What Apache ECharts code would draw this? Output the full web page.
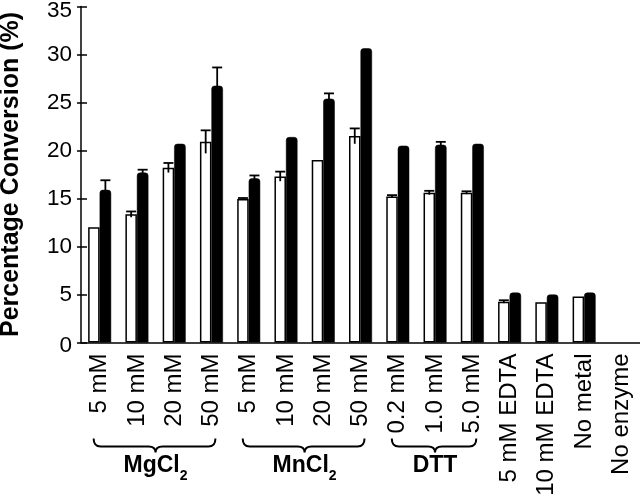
<!DOCTYPE html>
<html><head><meta charset="utf-8">
<script src="https://cdn.jsdelivr.net/npm/echarts@6/dist/echarts.min.js"></script>
<style>html,body{margin:0;padding:0;background:#fff}#c{width:640px;height:500px}</style>
</head><body><div id="c"></div>
<script>
// ---- data ----
const categories = ['5 mM','10 mM','20 mM','50 mM','5 mM','10 mM','20 mM','50 mM','0.2 mM','1.0 mM','5.0 mM','5 mM EDTA','10 mM EDTA','No metal','No enzyme'];
const openValues   = [12.0, 13.35, 18.2, 20.9, 14.95, 17.3, 19.0, 21.5, 15.2, 15.6, 15.6, 4.25, 4.2, 4.8, null];
const openErrors   = [0, 0.3, 0.5, 1.2, 0.1, 0.5, 0, 0.8, 0.15, 0.2, 0.15, 0.15, 0, 0, 0];
const filledValues = [15.9, 17.7, 20.7, 26.75, 17.1, 21.4, 25.4, 30.65, 20.5, 20.6, 20.7, 5.2, 5.0, 5.2, null];
const filledErrors = [1.0, 0.3, 0, 1.9, 0.3, 0, 0.55, 0, 0, 0.3, 0, 0, 0, 0, 0];
const groupNames = ['MgCl', 'MnCl', 'DTT'];
const groupSubs  = ['2', '2', ''];
const groupStart = [0, 4, 8];
const groupEnd   = [3, 7, 10];
const yMin = 0, yMax = 35, yStep = 5;
const yTitle = 'Percentage Conversion (%)';

// ---- rendering ----
const BAR_W = 11.5;
const FAMILY = 'Liberation Sans';
const chart = echarts.init(document.getElementById('c'), null, {renderer: 'canvas'});

const errData = [];
openValues.forEach((v, i) => { if (v != null && openErrors[i] > 0) errData.push([i, v, openErrors[i], -1]); });
filledValues.forEach((v, i) => { if (v != null && filledErrors[i] > 0) errData.push([i, v, filledErrors[i], 1]); });

const braceData = groupNames.map((n, g) => [groupStart[g], 0, groupEnd[g], g]);

const measureCtx = document.createElement('canvas').getContext('2d');
function textW(str, size) { measureCtx.font = 'bold ' + size + 'px "' + FAMILY + '"'; return measureCtx.measureText(str).width; }

const yLabelFont = {fontSize: 22.5, fontFamily: FAMILY, color: '#000'};

chart.setOption({
  animation: false,
  backgroundColor: '#fff',
  grid: {left: 81, right: 0, top: 6.5, bottom: 157.5, containLabel: false, outerBoundsMode: 'none'},
  xAxis: {
    type: 'category', data: categories, boundaryGap: true,
    axisLine: {lineStyle: {color: '#000', width: 1.5}},
    axisTick: {inside: true, length: 6, interval: 0, lineStyle: {color: '#000', width: 1.5}},
    axisLabel: {interval: 0, rotate: 90, margin: 11, fontSize: 24, color: '#000', fontFamily: FAMILY, hideOverlap: false},
    splitLine: {show: false}
  },
  yAxis: [{
    type: 'value', min: yMin, max: yMax, interval: yStep,
    name: yTitle, nameLocation: 'middle', nameGap: 57,
    nameTextStyle: {fontSize: 25, fontWeight: 'bold', color: '#000', fontFamily: FAMILY},
    axisLine: {show: true, lineStyle: {color: '#000', width: 1.5}},
    axisTick: {show: true, inside: false, length: 4, lineStyle: {color: '#000', width: 1.5}},
    axisLabel: Object.assign({
      margin: 9,
      formatter: v => v === yMax ? '{hi|' + v + '}' : (v === yMin ? '{lo|' + v + '}' : String(v)),
      rich: {
        hi: Object.assign({padding: [8.5, 0, 0, 0]}, yLabelFont),
        lo: Object.assign({padding: [7, 0, 0, 0]}, yLabelFont)
      }
    }, yLabelFont),
    splitLine: {show: false}
  }, {
    type: 'value', min: yMin, max: yMax, interval: yStep, position: 'left', offset: 0,
    axisLine: {show: false},
    axisTick: {show: true, inside: true, length: 6, lineStyle: {color: '#000', width: 1.5}},
    axisLabel: {show: false},
    splitLine: {show: false}
  }],
  series: [{
    type: 'bar', name: 'open', data: openValues, barWidth: BAR_W, barGap: '0%',
    itemStyle: {color: '#fff', borderColor: '#000', borderWidth: 1.5}
  }, {
    type: 'bar', name: 'filled', data: filledValues, barWidth: BAR_W, barGap: '0%',
    itemStyle: {color: '#000', borderColor: '#000', borderWidth: 0.5, borderRadius: [3, 3, 0, 0]}
  }, {
    type: 'custom', name: 'errors', data: errData, z: 5,
    encode: {x: 0, y: 1},
    renderItem(params, api) {
      const i = api.value(0), v = api.value(1), e = api.value(2), side = api.value(3);
      const c = api.coord([i, v]);
      const x = c[0] + side * BAR_W / 2;
      const top = api.coord([i, v + e])[1];
      const bot = api.coord([i, v - e])[1];
      const st = {stroke: '#000', lineWidth: 1.8};
      return {type: 'group', children: [
        {type: 'line', shape: {x1: x, y1: bot, x2: x, y2: top}, style: st},
        {type: 'line', shape: {x1: x - 5, y1: top, x2: x + 5, y2: top}, style: st}
      ]};
    }
  }, {
    type: 'custom', name: 'braces', data: braceData, z: 5, clip: false, silent: true,
    encode: {x: 0, y: 1},
    renderItem(params, api) {
      const s = api.value(0), e = api.value(2), g = api.value(3);
      const y0 = api.coord([s, 0])[1];
      const x1 = api.coord([s, 0])[0] - 6;
      const x2 = api.coord([e, 0])[0] + 4;
      const xm = (api.coord([s, 0])[0] + api.coord([e, 0])[0]) / 2;
      const top = y0 + 96, mid = y0 + 104, bot = y0 + 110, r = 7;
      const path = `M${x1},${top} Q${x1},${mid} ${x1 + r},${mid} L${xm - r},${mid} Q${xm},${mid} ${xm},${bot} Q${xm},${mid} ${xm + r},${mid} L${x2 - r},${mid} Q${x2},${mid} ${x2},${top}`;
      const wm = textW(groupNames[g], 23);
      const ws = groupSubs[g] ? textW(groupSubs[g], 14) : 0;
      const left = xm - (wm + ws) / 2;
      const children = [
        {type: 'path', shape: {pathData: path}, style: {stroke: '#000', lineWidth: 2, fill: null}},
        {type: 'text', x: left, y: y0 + 123, style: {text: groupNames[g], fontSize: 23, fontWeight: 'bold', fontFamily: FAMILY, fill: '#000', align: 'left', verticalAlign: 'middle'}}
      ];
      if (groupSubs[g]) children.push({type: 'text', x: left + wm, y: y0 + 134, style: {text: groupSubs[g], fontSize: 14, fontWeight: 'bold', fontFamily: FAMILY, fill: '#000', align: 'left', verticalAlign: 'middle'}});
      return {type: 'group', children};
    }
  }]
});
</script>
</body></html>
